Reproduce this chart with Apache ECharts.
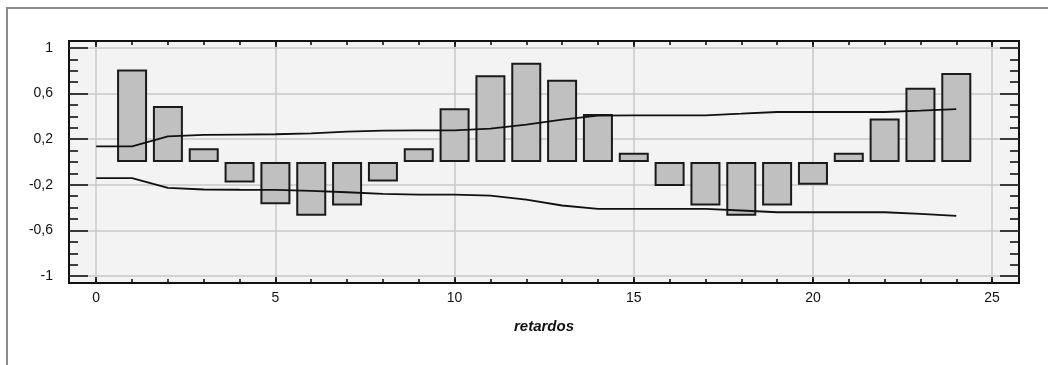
<!DOCTYPE html>
<html><head><meta charset="utf-8">
<script src="https://cdn.jsdelivr.net/npm/echarts@6/dist/echarts.min.js"></script>
<style>html,body{margin:0;padding:0;background:#fff}#c{width:1048px;height:365px}</style>
</head><body><div id="c"></div>
<script>
const lags = [1,2,3,4,5,6,7,8,9,10,11,12,13,14,15,16,17,18,19,20,21,22,23,24];
const acf = [0.81,0.49,0.12,-0.18,-0.37,-0.47,-0.38,-0.17,0.12,0.47,0.76,0.87,0.72,0.42,0.08,-0.21,-0.38,-0.47,-0.38,-0.20,0.08,0.38,0.65,0.78];
const bandLags = [0,1,2,3,4,5,6,7,8,9,10,11,12,13,14,15,16,17,18,19,20,21,22,23,24];
const upperBand = [0.137,0.137,0.224,0.237,0.240,0.243,0.251,0.266,0.275,0.277,0.277,0.292,0.327,0.371,0.406,0.409,0.409,0.409,0.423,0.438,0.438,0.438,0.438,0.450,0.464];
const lowerBand = [-0.142,-0.142,-0.227,-0.241,-0.243,-0.244,-0.253,-0.265,-0.279,-0.285,-0.285,-0.294,-0.329,-0.381,-0.410,-0.410,-0.410,-0.410,-0.425,-0.440,-0.440,-0.440,-0.440,-0.454,-0.472];
const xLabelValues = [0,5,10,15,20,25];
const xMinorValues = [0,1,2,3,4,5,6,7,8,9,10,11,12,13,14,15,16,17,18,19,20,21,22,23,24,25];
const yLabelValues = [-1,-0.6,-0.2,0.2,0.6,1];
const yMinorValues = [-0.9,-0.8,-0.7,-0.5,-0.4,-0.3,-0.1,0,0.1,0.3,0.4,0.5,0.7,0.8,0.9];
const xAxisName = 'retardos';

const FONT = 'Liberation Sans, Arial, sans-serif';
const X_MIN = -0.76, X_MAX = 25.75, Y_MIN = -1.06, Y_MAX = 1.06;
const tickStyle = {color:'#111', width:1.6};
const fmt = v => String(v).replace('.', ',');

function xAx(pos, values, len, extra) {
  return Object.assign({
    type:'value', min:X_MIN, max:X_MAX, position:pos,
    axisLine:{show:false, onZero:false},
    axisTick:{show:true, inside:true, length:len, customValues:values, lineStyle:tickStyle},
    axisLabel:{show:false}, splitLine:{show:false}
  }, extra || {});
}
function yAx(pos, values, len, extra) {
  return Object.assign({
    type:'value', min:Y_MIN, max:Y_MAX, position:pos,
    axisLine:{show:false, onZero:false},
    axisTick:{show:true, inside:true, length:len, customValues:values, lineStyle:tickStyle},
    axisLabel:{show:false}, splitLine:{show:false}
  }, extra || {});
}

const chart = echarts.init(document.getElementById('c'), null, {renderer:'canvas'});
chart.setOption({
  animation:false,
  backgroundColor:'#ffffff',
  graphic:[{type:'rect', silent:true, z:-10,
    shape:{x:7, y:8, width:1300, height:700},
    style:{fill:'none', stroke:'#8c8c8c', lineWidth:2}}],
  grid:{left:69, right:29, top:41, bottom:82, show:true,
        backgroundColor:'#f3f3f3', borderColor:'#111', borderWidth:2},
  xAxis:[
    xAx('bottom', xLabelValues, 6, {
      axisLabel:{show:true, customValues:xLabelValues, margin:8, fontSize:14, color:'#111', fontFamily:FONT},
      splitLine:{show:true, lineStyle:{color:'#c8c8c8', width:1.5}},
      name:xAxisName, nameLocation:'middle', nameGap:36,
      nameTextStyle:{fontSize:15, fontWeight:'bold', fontStyle:'italic', color:'#111', fontFamily:FONT}
    }),
    xAx('bottom', xMinorValues, 4),
    xAx('top', xLabelValues, 6),
    xAx('top', xMinorValues, 4)
  ],
  yAxis:[
    yAx('left', yLabelValues, 19, {
      axisLabel:{show:true, customValues:yLabelValues, margin:16, fontSize:14, color:'#111', fontFamily:FONT, formatter:fmt},
      splitLine:{show:true, lineStyle:{color:'#c8c8c8', width:1.5}}
    }),
    yAx('left', yMinorValues, 9),
    yAx('right', yLabelValues, 19),
    yAx('right', yMinorValues, 9)
  ],
  series:[
    {type:'bar', xAxisIndex:0, yAxisIndex:0, barWidth:30, z:2,
     data:lags.map((l,i)=>[l, acf[i]]),
     itemStyle:{color:'#c0c0c0', borderColor:'#1a1a1a', borderWidth:2}},
    {type:'line', xAxisIndex:0, yAxisIndex:0, symbol:'none', z:3,
     data:bandLags.map((l,i)=>[l, upperBand[i]]),
     lineStyle:{color:'#111', width:1.8}},
    {type:'line', xAxisIndex:0, yAxisIndex:0, symbol:'none', z:3,
     data:bandLags.map((l,i)=>[l, lowerBand[i]]),
     lineStyle:{color:'#111', width:1.8}}
  ]
});
</script></body></html>
